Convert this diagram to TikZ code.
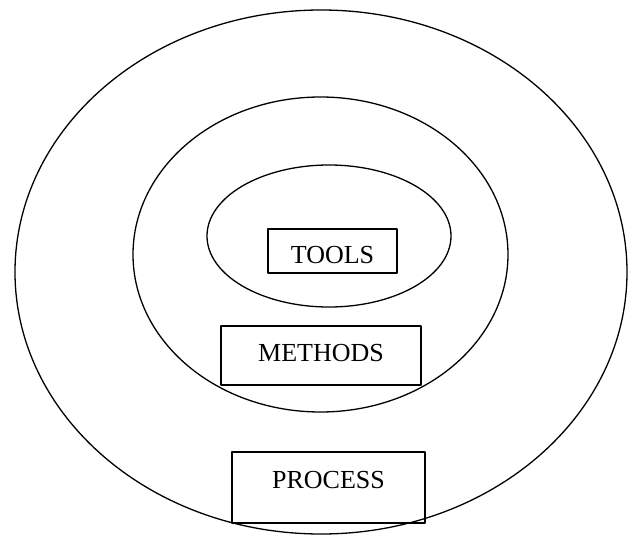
\documentclass[tikz,border=0pt]{standalone}
\usepackage{fontspec}
\setmainfont{Liberation Serif}
\begin{document}
\begin{tikzpicture}[
  x=1pt,
  y=-1pt,
  line join=round,
  layer/.style={draw=black,line width=1.3pt},
  layerbox/.style={draw=black,line width=1.3pt,rectangle,inner sep=0pt,
    font=\fontsize{26}{30}\selectfont,text height=17pt,text depth=0pt}
]
  \useasboundingbox (0,0) rectangle (638,538);

  % Nested layers, outermost first.
  \draw[layer] (321,272) ellipse [x radius=306,y radius=262];
  \draw[layer] (320.5,254.5) ellipse [x radius=187.5,y radius=157.5];
  \draw[layer] (329,236) ellipse [x radius=122,y radius=71];

  % Labels of the layers.
  \node[layerbox,minimum width=129,minimum height=44,text height=25pt]
    (tools) at (332.5,251) {TOOLS};
  \node[layerbox,minimum width=200,minimum height=59,text depth=5pt]
    (methods) at (321,355.5) {METHODS};
  \node[layerbox,minimum width=193,minimum height=71,text depth=16pt]
    (process) at (328.5,487.5) {PROCESS};
\end{tikzpicture}
\end{document}
